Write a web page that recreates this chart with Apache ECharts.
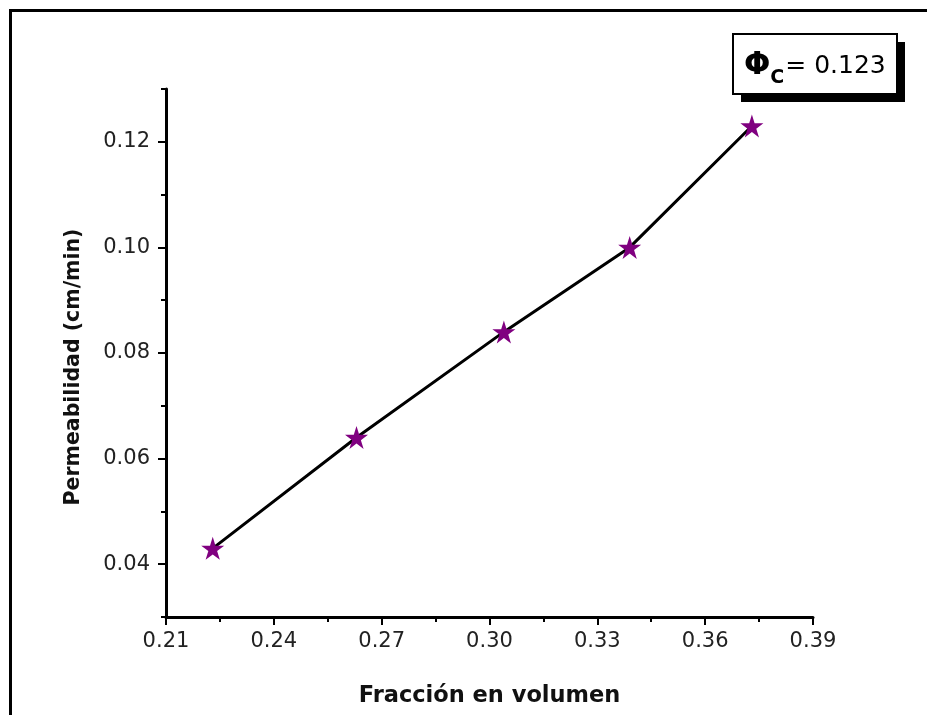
<!DOCTYPE html>
<html>
<head>
<meta charset="utf-8">
<script src="https://cdn.jsdelivr.net/npm/echarts@6/dist/echarts.min.js"></script>
<style>
html,body{margin:0;padding:0;background:#fff;}
#c{width:927px;height:715px;}
</style>
</head>
<body>
<div id="c"></div>
<script>
const xValues = [0.223, 0.263, 0.304, 0.339, 0.373];
const yValues = [0.043, 0.064, 0.084, 0.100, 0.123];
const yTicks = [0.04, 0.06, 0.08, 0.10, 0.12];
const yMinorTicks = [0.03, 0.05, 0.07, 0.09, 0.11, 0.13];
const xTickLabels = ['0.21', '0.24', '0.27', '0.30', '0.33', '0.36', '0.39'];
const annotation = '0.123';

const FONT = 'DejaVu Sans';
const star = 'path://M50,0 L61.2,34.5 L97.6,34.5 L68.2,55.9 L79.4,90.5 L50,69.1 L20.6,90.5 L31.8,55.9 L2.4,34.5 L38.8,34.5 Z';

const chart = echarts.init(document.getElementById('c'), null, {renderer: 'canvas'});
const data = xValues.map((x, i) => [x, yValues[i]]);

chart.setOption({
  animation: false,
  backgroundColor: '#fff',
  grid: {left: 166, right: 114, top: 89, bottom: 98, containLabel: false},
  xAxis: {
    type: 'value', min: 0.21, max: 0.39, interval: 0.03,
    name: 'Fracción en volumen', nameLocation: 'middle', nameGap: 68,
    nameTextStyle: {fontFamily: FONT, fontWeight: 'bold', fontSize: 22.5, color: '#111'},
    axisLine: {show: true, onZero: false, lineStyle: {color: '#000', width: 3}},
    axisTick: {show: true, inside: false, length: 8, lineStyle: {color: '#000', width: 2}},
    minorTick: {show: true, splitNumber: 2, length: 5, lineStyle: {color: '#000', width: 2}},
    axisLabel: {margin: 14, fontFamily: FONT, fontSize: 21, color: '#222',
      formatter: (v) => { const i = Math.round((v - 0.21) / 0.03); return xTickLabels[i] || ''; }},
    splitLine: {show: false}, minorSplitLine: {show: false}
  },
  yAxis: [{
    type: 'value', min: 0.03, max: 0.13,
    name: 'Permeabilidad (cm/min)', nameLocation: 'middle', nameGap: 82, nameRotate: 90,
    nameTextStyle: {fontFamily: FONT, fontWeight: 'bold', fontSize: 20.5, color: '#111', padding: [0, 28, 0, 0]},
    axisLine: {show: true, onZero: false, lineStyle: {color: '#000', width: 3}},
    axisTick: {show: true, inside: false, length: 8, customValues: yTicks, lineStyle: {color: '#000', width: 2}},
    axisLabel: {margin: 16, fontFamily: FONT, fontSize: 21, color: '#222', customValues: yTicks,
      formatter: (v) => v.toFixed(2)},
    splitLine: {show: false}
  }, {
    type: 'value', min: 0.03, max: 0.13, position: 'left',
    axisLine: {show: false},
    axisTick: {show: true, inside: false, length: 5, customValues: yMinorTicks, lineStyle: {color: '#000', width: 2}},
    axisLabel: {show: false},
    splitLine: {show: false}
  }],
  series: [{
    type: 'line', data: data, yAxisIndex: 0,
    symbol: star, symbolSize: 23,
    itemStyle: {color: '#800080'},
    lineStyle: {color: '#000', width: 3},
    z: 3
  }],
  graphic: [
    {type: 'rect', shape: {x: 9, y: 9, width: 3, height: 706}, style: {fill: '#000'}, silent: true},
    {type: 'rect', shape: {x: 9, y: 9, width: 918, height: 3}, style: {fill: '#000'}, silent: true},
    {type: 'rect', shape: {x: 741, y: 42, width: 164, height: 60}, style: {fill: '#000'}, silent: true, z: 10},
    {type: 'rect', shape: {x: 733, y: 34, width: 164, height: 60}, style: {fill: '#fff', stroke: '#000', lineWidth: 2}, silent: true, z: 11},
    {type: 'text', x: 744, y: 66, z: 12, silent: true,
      style: {
        text: '{phi|Φ}{sub|C}{t|= ' + annotation + '}',
        verticalAlign: 'middle',
        rich: {
          phi: {fontFamily: FONT, fontWeight: 'bold', fontSize: 31, color: '#000', lineHeight: 44, verticalAlign: 'middle'},
          sub: {fontFamily: FONT, fontWeight: 'bold', fontSize: 19, color: '#000', lineHeight: 44, verticalAlign: 'bottom', padding: [0, 1, 0, 0]},
          t: {fontFamily: FONT, fontSize: 25, color: '#000', lineHeight: 44, verticalAlign: 'middle'}
        }
      }}
  ]
});
</script>
</body>
</html>
